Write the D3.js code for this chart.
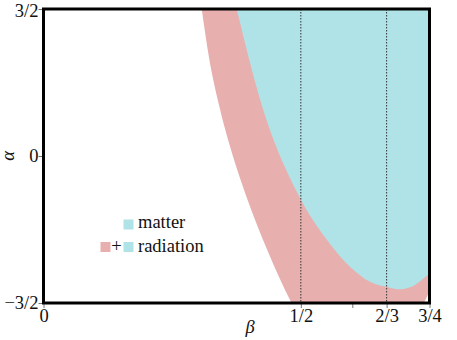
<!DOCTYPE html>
<html>
<head>
<meta charset="utf-8">
<script src="https://cdn.jsdelivr.net/npm/d3@7"></script>
</head>
<body style="margin:0">
<div id="my-chart"></div>
<script>
// axis ticks
const betaTicks = [0, 0.5, 0.6, 2 / 3, 0.75];
const betaLabels = ["0", "1/2", "", "2/3", "3/4"];
const alphaTicks = [-1.5, 0, 1.5];
const alphaLabels = ["\u22123/2", "0", "3/2"];
const dottedBeta = [0.5, 2 / 3];

// lower edge of the radiation region (continues below the frame)
const radBeta  = [0.3074, 0.3214, 0.3410, 0.3645, 0.3966, 0.4348, 0.4819, 0.52, 0.61, 0.739, 0.75];
const radAlpha = [1.5,    1.010,  0.520,  0.061, -0.449, -0.959, -1.5,  -1.85, -2.3, -1.5, -1.383];

// lower edge of the matter region
const matBeta  = [0.3754, 0.424, 0.4984, 0.5567, 0.5955, 0.6344, 0.670, 0.6894, 0.7154, 0.7348, 0.75];
const matAlpha = [1.5,    0.52, -0.429, -0.898, -1.129, -1.283, -1.340, -1.360, -1.334, -1.265, -1.197];

const width = 457, height = 340;
const marginLeft = 43.5, marginRight = 27.5, marginTop = 9, marginBottom = 37;
const pink = "#e8afaf", cyan = "#b0e3e7";
const fontSize = 18.5;

const x = d3.scaleLinear([0, 0.75], [marginLeft, width - marginRight]);
const y = d3.scaleLinear([-1.5, 1.5], [height - marginBottom, marginTop]);

const svg = d3.select("#my-chart").append("svg")
    .attr("width", width)
    .attr("height", height)
    .attr("font-family", "Liberation Serif, serif")
    .attr("font-size", fontSize);

svg.append("defs").append("clipPath")
    .attr("id", "plot-clip")
  .append("rect")
    .attr("x", x(0))
    .attr("y", y(1.5))
    .attr("width", x(0.75) - x(0))
    .attr("height", y(-1.5) - y(1.5));

const plot = svg.append("g").attr("clip-path", "url(#plot-clip)");

const region = d3.area()
    .x(d => x(d[0]))
    .y0(d => y(d[1]))
    .y1(y(1.5))
    .curve(d3.curveMonotoneX);

plot.append("path")
    .datum(d3.zip(radBeta, radAlpha))
    .attr("fill", pink)
    .attr("d", region);

plot.append("path")
    .datum(d3.zip(matBeta, matAlpha))
    .attr("fill", cyan)
    .attr("d", region);

// dotted guides
plot.selectAll("line.guide")
  .data(dottedBeta)
  .join("line")
    .attr("class", "guide")
    .attr("x1", d => x(d)).attr("x2", d => x(d))
    .attr("y1", y(1.5)).attr("y2", y(-1.5))
    .attr("stroke", "#333")
    .attr("stroke-width", 1)
    .attr("stroke-dasharray", "1.5,1.5");

// x axis
svg.append("g")
    .attr("transform", `translate(0,${y(-1.5)})`)
    .call(d3.axisBottom(x).tickValues(betaTicks).tickFormat((d, i) => betaLabels[i]).tickSize(5))
    .attr("font-family", null)
    .attr("font-size", null)
    .call(g => g.select(".domain").remove())
    .call(g => g.selectAll(".tick line").attr("stroke", "#777"))
    .call(g => g.selectAll(".tick text").attr("y", 19).attr("dy", null).attr("fill", "#111"));

// y axis
svg.append("g")
    .attr("transform", `translate(${x(0)},0)`)
    .call(d3.axisLeft(y).tickValues(alphaTicks).tickFormat((d, i) => alphaLabels[i]).tickSize(5))
    .attr("font-family", null)
    .attr("font-size", null)
    .call(g => g.select(".domain").remove())
    .call(g => g.selectAll(".tick line").attr("stroke", "#777"))
    .call(g => g.selectAll(".tick text")
        .attr("x", -5)
        .attr("y", d => d === 1.5 ? 2 : 0)
        .attr("dy", "0.32em")
        .attr("fill", "#111"));

// frame
svg.append("rect")
    .attr("x", x(0))
    .attr("y", y(1.5))
    .attr("width", x(0.75) - x(0))
    .attr("height", y(-1.5) - y(1.5))
    .attr("fill", "none")
    .attr("stroke", "#000")
    .attr("stroke-width", 3);

// axis labels
svg.append("text")
    .attr("transform", `translate(14,${y(0)}) rotate(-90)`)
    .attr("text-anchor", "middle")
    .attr("font-style", "italic")
    .attr("fill", "#111")
    .text("\u03b1");

svg.append("text")
    .attr("x", 250)
    .attr("y", 333)
    .attr("text-anchor", "middle")
    .attr("font-style", "italic")
    .attr("fill", "#111")
    .text("\u03b2");

// legend
const legend = svg.append("g").attr("fill", "#111");
legend.append("rect").attr("x", 123.5).attr("y", 219.5).attr("width", 10).attr("height", 10).attr("fill", cyan);
legend.append("text").attr("x", 138).attr("y", 228).text("matter");
legend.append("rect").attr("x", 100.5).attr("y", 242).attr("width", 10).attr("height", 10).attr("fill", pink);
legend.append("text").attr("x", 116.5).attr("y", 252).attr("text-anchor", "middle").text("+");
legend.append("rect").attr("x", 123.5).attr("y", 242).attr("width", 10).attr("height", 10).attr("fill", cyan);
legend.append("text").attr("x", 138).attr("y", 252).text("radiation");
</script>
</body>
</html>
